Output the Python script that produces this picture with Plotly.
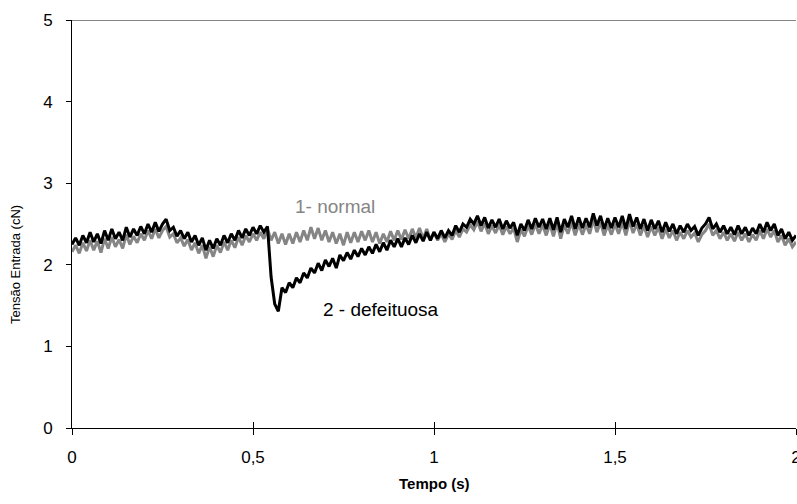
import plotly.graph_objects as go

# time axis (s), 0.01 s step
t = [round(i * 0.01, 2) for i in range(201)]

normal = [
    2.16, 2.24, 2.14, 2.27, 2.17, 2.30, 2.18, 2.29, 2.15, 2.32,
    2.20, 2.34, 2.22, 2.31, 2.20, 2.37, 2.25, 2.35, 2.27, 2.38,
    2.30, 2.42, 2.32, 2.44, 2.33, 2.42, 2.47, 2.34, 2.38, 2.27,
    2.33, 2.23, 2.31, 2.18, 2.27, 2.14, 2.24, 2.08, 2.22, 2.10,
    2.24, 2.15, 2.28, 2.18, 2.30, 2.21, 2.34, 2.24, 2.36, 2.28,
    2.38, 2.30, 2.40, 2.32, 2.44, 2.30, 2.40, 2.26, 2.38, 2.25,
    2.38, 2.26, 2.40, 2.28, 2.42, 2.30, 2.46, 2.32, 2.45, 2.30,
    2.42, 2.28, 2.40, 2.26, 2.38, 2.24, 2.40, 2.27, 2.40, 2.28,
    2.41, 2.30, 2.42, 2.28, 2.40, 2.26, 2.38, 2.28, 2.41, 2.30,
    2.42, 2.31, 2.43, 2.32, 2.44, 2.33, 2.45, 2.32, 2.44, 2.30,
    2.40, 2.30, 2.38, 2.28, 2.38, 2.31, 2.42, 2.34, 2.44, 2.40,
    2.49, 2.43, 2.53, 2.41, 2.51, 2.38, 2.48, 2.39, 2.49, 2.37,
    2.47, 2.38, 2.45, 2.28, 2.43, 2.35, 2.48, 2.37, 2.50, 2.38,
    2.49, 2.36, 2.50, 2.35, 2.51, 2.32, 2.49, 2.38, 2.52, 2.36,
    2.50, 2.37, 2.49, 2.38, 2.55, 2.40, 2.52, 2.36, 2.49, 2.37,
    2.50, 2.38, 2.52, 2.36, 2.54, 2.39, 2.50, 2.36, 2.48, 2.34,
    2.47, 2.36, 2.46, 2.32, 2.44, 2.33, 2.42, 2.30, 2.40, 2.32,
    2.42, 2.34, 2.39, 2.28, 2.37, 2.42, 2.50, 2.36, 2.42, 2.32,
    2.40, 2.30, 2.38, 2.29, 2.40, 2.30, 2.38, 2.28, 2.37, 2.30,
    2.42, 2.32, 2.44, 2.34, 2.42, 2.28, 2.36, 2.24, 2.32, 2.22,
    2.28,
]

defeituosa = [
    2.25, 2.33, 2.24, 2.36, 2.27, 2.40, 2.28, 2.38, 2.26, 2.42,
    2.30, 2.44, 2.32, 2.40, 2.30, 2.46, 2.34, 2.44, 2.36, 2.47,
    2.38, 2.50, 2.40, 2.52, 2.41, 2.50, 2.56, 2.42, 2.46, 2.35,
    2.42, 2.32, 2.40, 2.28, 2.36, 2.24, 2.33, 2.18, 2.30, 2.20,
    2.32, 2.24, 2.36, 2.27, 2.38, 2.30, 2.42, 2.33, 2.44, 2.36,
    2.46, 2.38, 2.48, 2.40, 2.47, 1.85, 1.52, 1.43, 1.72, 1.66,
    1.78, 1.72, 1.84, 1.78, 1.90, 1.84, 1.96, 1.90, 2.02, 1.93,
    2.06, 1.98, 2.08, 1.96, 2.12, 2.05, 2.15, 2.07, 2.18, 2.10,
    2.20, 2.12, 2.22, 2.14, 2.25, 2.16, 2.27, 2.18, 2.30, 2.22,
    2.32, 2.22, 2.33, 2.25, 2.36, 2.27, 2.38, 2.29, 2.40, 2.30,
    2.40, 2.32, 2.42, 2.33, 2.42, 2.36, 2.48, 2.40, 2.50, 2.46,
    2.56, 2.50, 2.60, 2.48, 2.58, 2.45, 2.55, 2.46, 2.56, 2.44,
    2.54, 2.45, 2.52, 2.36, 2.50, 2.42, 2.55, 2.44, 2.57, 2.46,
    2.56, 2.44, 2.57, 2.43, 2.58, 2.40, 2.56, 2.46, 2.60, 2.44,
    2.58, 2.45, 2.57, 2.46, 2.63, 2.48, 2.60, 2.44, 2.57, 2.45,
    2.58, 2.46, 2.60, 2.44, 2.62, 2.47, 2.58, 2.44, 2.56, 2.42,
    2.55, 2.44, 2.54, 2.40, 2.52, 2.41, 2.50, 2.38, 2.48, 2.40,
    2.50, 2.42, 2.47, 2.36, 2.45, 2.50, 2.58, 2.44, 2.50, 2.40,
    2.48, 2.38, 2.46, 2.37, 2.48, 2.38, 2.46, 2.36, 2.45, 2.38,
    2.50, 2.40, 2.52, 2.42, 2.50, 2.36, 2.44, 2.32, 2.40, 2.30,
    2.36,
]

x_tickvals = [0, 0.5, 1, 1.5, 2]
x_ticktext = ["0", "0,5", "1", "1,5", "2"]
y_tickvals = [0, 1, 2, 3, 4, 5]

FONT = "Liberation Sans, Arial, sans-serif"
GRAY = "#858585"

fig = go.Figure()
fig.add_trace(go.Scatter(x=t, y=normal, mode="lines", name="1- normal",
                         line=dict(color=GRAY, width=3), showlegend=False))
fig.add_trace(go.Scatter(x=t, y=defeituosa, mode="lines", name="2 - defeituosa",
                         line=dict(color="black", width=3), showlegend=False))
# dummy trace on overlay axis for inner tick marks
fig.add_trace(go.Scatter(x=[None], y=[None], xaxis="x2", showlegend=False))

fig.update_layout(
    width=797, height=504,
    margin=dict(l=72, r=1, t=20, b=76, autoexpand=False),
    paper_bgcolor="white", plot_bgcolor="white",
    font=dict(family=FONT, color="black"),
    xaxis=dict(range=[0, 2], tickvals=x_tickvals, ticktext=x_ticktext,
               automargin=False, ticklabeloverflow="allow",
               showgrid=False, zeroline=False, showline=True,
               linecolor="black", linewidth=1, ticks="outside", ticklen=6,
               tickcolor="black", tickwidth=1, ticklabelstandoff=8,
               tickfont=dict(size=17, family=FONT)),
    xaxis2=dict(range=[0, 2], overlaying="x", anchor="y", side="bottom",
                automargin=False,
                tickvals=x_tickvals, showticklabels=False, showgrid=False,
                zeroline=False, showline=False, ticks="inside", ticklen=6,
                tickcolor="black", tickwidth=1),
    yaxis=dict(range=[0, 5], tickvals=y_tickvals, showgrid=False, zeroline=False,
               automargin=False,
               showline=True, linecolor="black", linewidth=1,
               ticks="outside", ticklen=5, tickcolor="black", tickwidth=1,
               ticklabelstandoff=10, tickfont=dict(size=17, family=FONT)),
    shapes=[dict(type="line", xref="paper", yref="y", x0=0, x1=1, y0=5, y1=5,
                 line=dict(color=GRAY, width=2))],
    annotations=[
        dict(x=0.727, y=2.71, xref="x", yref="y", text="1- normal", showarrow=False,
             font=dict(size=19, color=GRAY, family=FONT)),
        dict(x=0.853, y=1.45, xref="x", yref="y", text="2 - defeituosa", showarrow=False,
             font=dict(size=19, color="black", family=FONT)),
        dict(x=0.5, y=-0.135, xref="paper", yref="paper", text="<b>Tempo (s)</b>",
             showarrow=False, yanchor="middle",
             font=dict(size=15, color="black", family=FONT)),
        dict(x=-0.077, y=0.4, xref="paper", yref="paper", text="Tensão Entrada (cN)",
             showarrow=False, textangle=-90, xanchor="center", yanchor="middle",
             font=dict(size=13, color="black", family=FONT)),
    ],
)

# remove the default page margin so the 797x504 figure fills the window exactly
post_js = (
    "document.body.style.margin='0';"
    "document.body.style.overflow='hidden';"
    "document.documentElement.style.overflow='hidden';"
)

fig.write_html("out.html", post_script=post_js,
               config={"displayModeBar": False, "staticPlot": True})
